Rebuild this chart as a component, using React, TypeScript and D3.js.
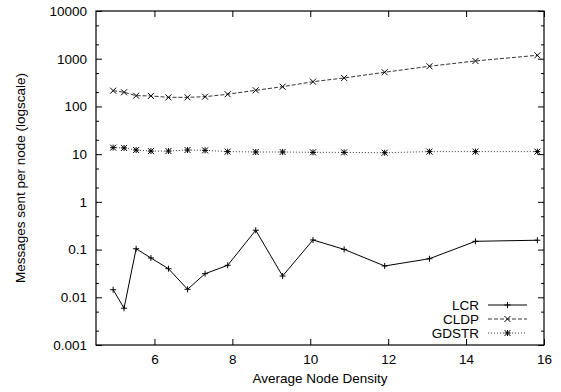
import { useEffect, useRef } from "react";
import * as d3 from "d3";

// average node density for each run
const density = [4.94, 5.22, 5.53, 5.91, 6.36, 6.85, 7.30, 7.88, 8.60, 9.29, 10.07, 10.87, 11.91, 13.06, 14.24, 15.83];

const lcr = [0.0144, 0.0059, 0.104, 0.0667, 0.0397, 0.0147, 0.0312, 0.0468, 0.254, 0.0279, 0.159, 0.101, 0.0453, 0.0644, 0.149, 0.157];
const cldp = [214, 198, 168, 166, 155, 155, 160, 180, 218, 259, 330, 395, 520, 695, 897, 1180];
const gdstr = [13.7, 13.5, 12.2, 11.6, 11.6, 12.2, 12.0, 11.3, 11.1, 11.1, 10.9, 10.9, 10.7, 11.3, 11.3, 11.3];

const xTicks = [6, 8, 10, 12, 14, 16];
const yTicks = [0.001, 0.01, 0.1, 1, 10, 100, 1000, 10000];
const yTickLabels = ["0.001", "0.01", "0.1", "1", "10", "100", "1000", "10000"];

type Marker = "plus" | "cross" | "star";

const seriesList: { name: string; values: number[]; dash: string | null; marker: Marker; color: string }[] = [
  { name: "LCR", values: lcr, dash: null, marker: "plus", color: "#000" },
  { name: "CLDP", values: cldp, dash: "4,2", marker: "cross", color: "#333" },
  { name: "GDSTR", values: gdstr, dash: "1,2", marker: "star", color: "#333" },
];

const markerPath = (m: Marker, s: number) => {
  const plus = `M${-s},0H${s}M0,${-s}V${s}`;
  const cross = `M${-s},${-s}L${s},${s}M${-s},${s}L${s},${-s}`;
  if (m === "plus") return plus;
  if (m === "cross") return cross;
  return plus + cross;
};

const W = 561;
const H = 392;
const FONT = "'Liberation Sans', Arial, Helvetica, sans-serif";

export default function App() {
  const ref = useRef<SVGSVGElement | null>(null);

  useEffect(() => {
    if (!ref.current) return;
    const svg = d3.select(ref.current);
    svg.selectAll("*").remove();

    const margin = { top: 11, right: 17, bottom: 47, left: 96 };
    const width = W - margin.left - margin.right;
    const height = H - margin.top - margin.bottom;

    const g = svg.append("g").attr("transform", `translate(${margin.left},${margin.top})`);

    const x = d3.scaleLinear().domain([4.5, 16]).range([0, width]);
    const y = d3.scaleLog().domain([0.001, 10000]).range([height, 0]);

    const minorY = y.ticks().filter((d) => {
      const lead = Math.round(d / Math.pow(10, Math.floor(Math.log10(d) + 1e-9)));
      return lead === 2 || lead === 5;
    });

    const styleAxis = (sel: d3.Selection<SVGGElement, unknown, null, undefined>) => {
      sel.select(".domain").remove();
      sel.selectAll(".tick line").attr("stroke", "#000");
      sel.selectAll("text").attr("font-family", FONT).attr("font-size", 13.5).attr("fill", "#000");
    };

    // bottom / top
    g.append("g")
      .attr("transform", `translate(0,${height})`)
      .call(d3.axisBottom(x).tickValues(xTicks).tickSize(-6).tickPadding(9).tickFormat(d3.format("d")))
      .call(styleAxis);
    g.append("g")
      .call(d3.axisTop(x).tickValues(xTicks).tickSize(-6).tickFormat(() => ""))
      .call(styleAxis);

    // left / right
    g.append("g")
      .call(
        d3.axisLeft(y)
          .tickValues(yTicks)
          .tickSize(-6)
          .tickPadding(9)
          .tickFormat((_, i) => yTickLabels[i])
      )
      .call(styleAxis);
    g.append("g")
      .call(d3.axisLeft(y).tickValues(minorY).tickSize(-3).tickFormat(() => ""))
      .call(styleAxis);
    g.append("g")
      .attr("transform", `translate(${width},0)`)
      .call(d3.axisRight(y).tickValues(yTicks).tickSize(-6).tickFormat(() => ""))
      .call(styleAxis);
    g.append("g")
      .attr("transform", `translate(${width},0)`)
      .call(d3.axisRight(y).tickValues(minorY).tickSize(-3).tickFormat(() => ""))
      .call(styleAxis);

    g.append("rect")
      .attr("width", width)
      .attr("height", height)
      .attr("fill", "none")
      .attr("stroke", "#000")
      .attr("stroke-width", 1.2);

    // series
    seriesList.forEach((s) => {
      const pts: [number, number][] = density.map((d, i) => [d, s.values[i]]);
      const line = d3.line<[number, number]>().x((d) => x(d[0])).y((d) => y(d[1]));
      g.append("path")
        .attr("d", line(pts))
        .attr("fill", "none")
        .attr("stroke", s.color)
        .attr("stroke-width", 1)
        .attr("stroke-dasharray", s.dash);
      g.selectAll(null)
        .data(pts)
        .enter()
        .append("path")
        .attr("transform", (d) => `translate(${x(d[0])},${y(d[1])})`)
        .attr("d", markerPath(s.marker, 3))
        .attr("stroke", "#000")
        .attr("stroke-width", 1)
        .attr("fill", "none");
    });

    // legend
    const legend = g.append("g").attr("transform", `translate(${479 - margin.left},${305 - margin.top})`);
    seriesList.forEach((s, i) => {
      const row = legend.append("g").attr("transform", `translate(0,${i * 14})`);
      row.append("text")
        .attr("x", 0)
        .attr("dy", "0.35em")
        .attr("text-anchor", "end")
        .attr("font-family", FONT)
        .attr("font-size", 13.5)
        .text(s.name);
      row.append("line")
        .attr("x1", 9)
        .attr("x2", 48)
        .attr("stroke", s.color)
        .attr("stroke-width", 1)
        .attr("stroke-dasharray", s.dash);
      row.append("path")
        .attr("transform", "translate(28.5,0)")
        .attr("d", markerPath(s.marker, 3))
        .attr("stroke", "#000")
        .attr("fill", "none");
    });

    // axis titles
    svg.append("text")
      .attr("x", margin.left + width / 2)
      .attr("y", 383)
      .attr("text-anchor", "middle")
      .attr("font-family", FONT)
      .attr("font-size", 13.5)
      .text("Average Node Density");
    svg.append("text")
      .attr("transform", `translate(25,${margin.top + height / 2}) rotate(-90)`)
      .attr("text-anchor", "middle")
      .attr("font-family", FONT)
      .attr("font-size", 13.5)
      .text("Messages sent per node (logscale)");
  }, []);

  return (
    <svg
      ref={ref}
      width={W}
      height={H}
      style={{ position: "absolute", left: 0, top: 0, background: "#fff" }}
    />
  );
}
